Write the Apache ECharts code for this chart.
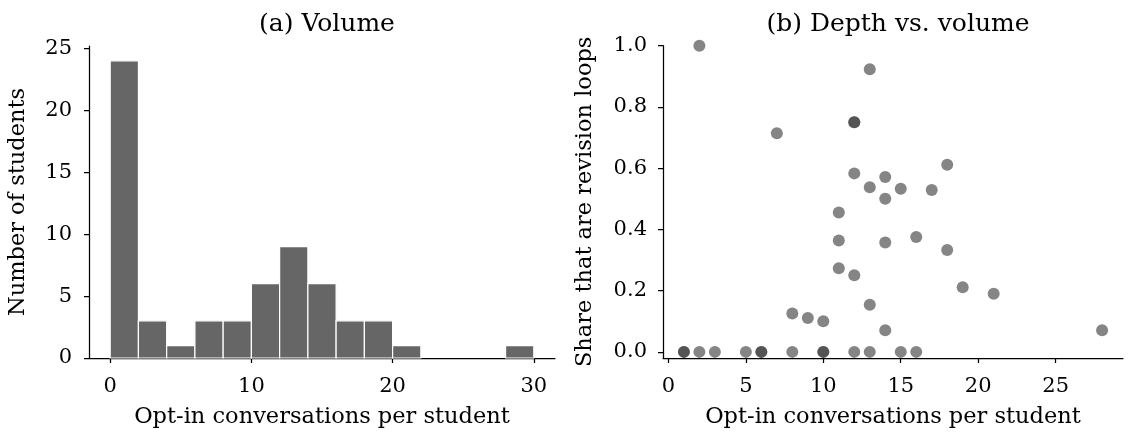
<!DOCTYPE html>
<html><head><meta charset="utf-8">
<script src="https://cdn.jsdelivr.net/npm/echarts@6/dist/echarts.min.js"></script>
<style>html,body{margin:0;padding:0;background:#fff}#c{width:1130px;height:434px}</style>
</head><body><div id="c"></div>
<script>
// Histogram (a): bin edges (start) width 2, counts
const binStarts = [0, 2, 4, 6, 8, 10, 12, 14, 16, 18, 20, 22, 24, 26, 28];
const binWidth = 2;
const binCounts = [24, 3, 1, 3, 3, 6, 9, 6, 3, 3, 1, 0, 0, 0, 1];
// Scatter (b): conversations per student vs share that are revision loops
const convX = [1, 1, 2, 2, 3, 5, 6, 6, 7, 8, 8, 9, 10, 10, 10, 11, 11, 11,
  12, 12, 12, 12, 12, 13, 13, 13, 13, 14, 14, 14, 14, 15, 15, 16, 16, 17, 18, 18, 19, 21, 28];
const shareY = [0, 0, 1.0, 0, 0, 0, 0, 0, 0.714, 0.125, 0, 0.111, 0.1, 0, 0, 0.455, 0.364, 0.273,
  0.75, 0.75, 0.583, 0.25, 0, 0.923, 0.538, 0.154, 0, 0.571, 0.5, 0.357, 0.071, 0.533, 0, 0.375, 0, 0.529, 0.611, 0.333, 0.211, 0.19, 0.071];
const histXTicks = [0, 10, 20, 30];
const histYTicks = [0, 5, 10, 15, 20, 25];
const scatXTicks = [0, 5, 10, 15, 20, 25];
const scatYTicks = [0, 0.2, 0.4, 0.6, 0.8, 1.0];

const FONT = 'DejaVu Serif';
const histData = binStarts.map((s, i) => [s, s + binWidth, binCounts[i]]);
const scatData = convX.map((x, i) => [x, shareY[i]]);

function axisBase(ticks, fmt, margin) {
  return {
    axisLine: {show: true, onZero: false, lineStyle: {color: '#000', width: 1.25}},
    axisTick: {show: true, length: 5, lineStyle: {color: '#000', width: 1.25}, customValues: ticks},
    axisLabel: {color: '#000', fontFamily: FONT, fontSize: 21, margin: margin, customValues: ticks, formatter: fmt},
    splitLine: {show: false},
    nameTextStyle: {color: '#000', fontFamily: FONT, fontSize: 22.5},
    nameLocation: 'middle'
  };
}

const option = {
  animation: false,
  title: [
    {text: '(a) Volume', left: 322, top: 7, textAlign: 'center',
     textStyle: {fontFamily: FONT, fontSize: 25, fontWeight: 'normal', color: '#000'}},
    {text: '(b) Depth vs. volume', left: 893, top: 7, textAlign: 'center',
     textStyle: {fontFamily: FONT, fontSize: 25, fontWeight: 'normal', color: '#000'}}
  ],
  grid: [
    {left: 89, top: 46, width: 466, height: 314},
    {left: 663, top: 45.7, width: 460, height: 314.3}
  ],
  xAxis: [
    Object.assign(axisBase(histXTicks, v => String(v), 18), {
      type: 'value', gridIndex: 0, min: -1.5, max: 31.5,
      name: 'Opt-in conversations per student', nameGap: 48}),
    Object.assign(axisBase(scatXTicks, v => String(v), 18), {
      type: 'value', gridIndex: 1, min: -0.35, max: 29.35,
      name: 'Opt-in conversations per student', nameGap: 48})
  ],
  yAxis: [
    Object.assign(axisBase(histYTicks, v => String(v), 17), {
      type: 'value', gridIndex: 0, min: 0, max: 25.2,
      name: 'Number of students', nameGap: 59}),
    Object.assign(axisBase(scatYTicks, v => v.toFixed(1), 16), {
      type: 'value', gridIndex: 1, min: -0.02, max: 1.0,
      name: 'Share that are revision loops', nameGap: 66})
  ],
  series: [
    {
      type: 'custom', xAxisIndex: 0, yAxisIndex: 0, data: histData,
      encode: {x: [0, 1], y: 2},
      renderItem: function (params, api) {
        if (api.value(2) <= 0) return null;
        const p0 = api.coord([api.value(0), api.value(2)]);
        const p1 = api.coord([api.value(1), 0]);
        return {
          type: 'rect',
          shape: {x: p0[0], y: p0[1], width: p1[0] - p0[0], height: p1[1] - p0[1]},
          style: {fill: '#666666', stroke: '#ffffff', lineWidth: 1.2}
        };
      }
    },
    {
      type: 'scatter', xAxisIndex: 1, yAxisIndex: 1, data: scatData,
      symbol: 'circle', symbolSize: 12, clip: true,
      itemStyle: {color: '#333333', opacity: 0.6}
    }
  ]
};
const chart = echarts.init(document.getElementById('c'), null, {renderer: 'canvas'});
chart.setOption(option);
</script></body></html>
